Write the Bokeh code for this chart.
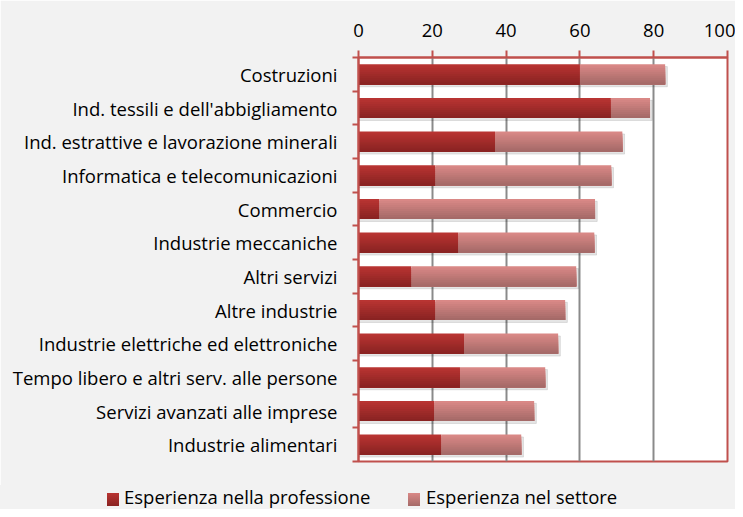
from bokeh.plotting import figure
from bokeh.layouts import column
from bokeh.models import Range1d, FixedTicker, ColumnDataSource, Div
from bokeh.embed import file_html
from bokeh.resources import INLINE

categories = ["Costruzioni", "Ind. tessili e dell'abbigliamento",
              "Ind. estrattive e lavorazione minerali", "Informatica e telecomunicazioni",
              "Commercio", "Industrie meccaniche", "Altri servizi", "Altre industrie",
              "Industrie elettriche ed elettroniche", "Tempo libero e altri serv. alle persone",
              "Servizi avanzati alle imprese", "Industrie alimentari"]
professione = [60, 68.4, 37, 20.8, 5.6, 27, 14.3, 20.8, 28.6, 27.5, 20.5, 22.4]
settore = [23.1, 10.6, 34.5, 47.7, 58.5, 36.9, 44.7, 35.2, 25.5, 23.1, 27.1, 21.7]
series_names = ["Esperienza nella professione", "Esperienza nel settore"]
x_ticks = [0, 20, 40, 60, 80, 100]

FONT = "Open Sans"
FS = "18.5px"
RED = "#C0504D"
DARK_TOP, DARK_BOT = (184, 52, 50), (138, 35, 34)
LIGHT_TOP, LIGHT_BOT = (217, 136, 134), (165, 106, 104)
BG = "#F2F2F2"
BAR_H = 0.6
STRIPS = 10


def mix(a, b, t):
    return "#%02x%02x%02x" % tuple(round(a[i] + (b[i] - a[i]) * t) for i in range(3))


n = len(categories)
centers = [i + 0.5 for i in range(n)]
totals = [a + b for a, b in zip(professione, settore)]
zeros = [0.0] * n

p = figure(width=735, height=485, output_backend="svg", toolbar_location=None,
           x_range=Range1d(0, 100), y_range=Range1d(n, 0),
           x_axis_location="above", min_border_left=358, min_border_right=8,
           min_border_top=57, min_border_bottom=24)
p.background_fill_color = "white"
p.border_fill_color = BG
p.outline_line_color = RED
p.outline_line_width = 2

# soft shadow
shadow = ColumnDataSource(dict(y=[c + 0.07 for c in centers], l=zeros,
                               r=[t + 0.6 for t in totals]))
p.hbar(y="y", left="l", right="r", height=BAR_H, source=shadow, color="#000000", alpha=0.10)

# gradient bars: nested bands, each covering from its top edge to the bar bottom
sh = BAR_H / STRIPS
for k in range(STRIPS):
    t = k / (STRIPS - 1)
    hk = BAR_H - k * sh
    ys = [c + BAR_H / 2 - hk / 2 for c in centers]
    s = ColumnDataSource(dict(y=ys, z=zeros, p=professione, t=totals))
    p.hbar(y="y", left="z", right="p", height=hk, source=s,
           fill_color=mix(DARK_TOP, DARK_BOT, t), line_color=None)
    p.hbar(y="y", left="p", right="t", height=hk, source=s,
           fill_color=mix(LIGHT_TOP, LIGHT_BOT, t), line_color=None)

p.xaxis.ticker = FixedTicker(ticks=x_ticks)
p.xaxis.axis_line_color = RED
p.xaxis.axis_line_width = 2
p.xaxis.major_tick_line_color = RED
p.xaxis.major_tick_line_width = 2
p.xaxis.major_tick_out = 7
p.xaxis.major_tick_in = 0
p.xaxis.minor_tick_line_color = None
p.xaxis.major_label_text_font = FONT
p.xaxis.major_label_text_font_size = FS
p.xaxis.major_label_text_color = "black"
p.xaxis.major_label_standoff = 14

p.yaxis.ticker = FixedTicker(ticks=centers, minor_ticks=list(range(n + 1)))
p.yaxis.major_label_overrides = {c: lab for c, lab in zip(centers, categories)}
p.yaxis.axis_line_color = RED
p.yaxis.axis_line_width = 2
p.yaxis.major_tick_line_color = None
p.yaxis.major_tick_out = 0
p.yaxis.major_tick_in = 0
p.yaxis.minor_tick_line_color = RED
p.yaxis.minor_tick_line_width = 2
p.yaxis.minor_tick_out = 6
p.yaxis.minor_tick_in = 0
p.yaxis.major_label_text_font = FONT
p.yaxis.major_label_text_font_size = FS
p.yaxis.major_label_text_color = "black"
p.yaxis.major_label_standoff = 15

p.xgrid.ticker = FixedTicker(ticks=x_ticks[1:-1])
p.xgrid.grid_line_color = "#8A8A8A"
p.xgrid.grid_line_width = 2
p.ygrid.grid_line_color = None

# legend strip as HTML
def swatch(left, top_c, bot_c):
    return (f'<span style="position:absolute;left:{left}px;top:8px;width:12px;height:13px;'
            f'background:linear-gradient({mix(top_c, bot_c, 0)},{mix(top_c, bot_c, 1)});"></span>')

def label(left, txt):
    return (f'<span style="position:absolute;left:{left}px;top:0px;line-height:24px;'
            f'white-space:nowrap;">{txt}</span>')

legend_html = ('<div style="position:relative;width:735px;height:24px;'
               f'background:{BG};font-family:\'{FONT}\',sans-serif;font-size:{FS};color:black;">'
               + swatch(107, DARK_TOP, DARK_BOT) + label(124, series_names[0])
               + swatch(408, LIGHT_TOP, LIGHT_BOT) + label(426, series_names[1])
               + '</div>')
legend_div = Div(text=legend_html, width=735, height=24, margin=0,
                 styles={"background-color": BG})

layout = column(p, legend_div, spacing=0, margin=0)
open("out.html", "w").write(file_html(layout, INLINE))
